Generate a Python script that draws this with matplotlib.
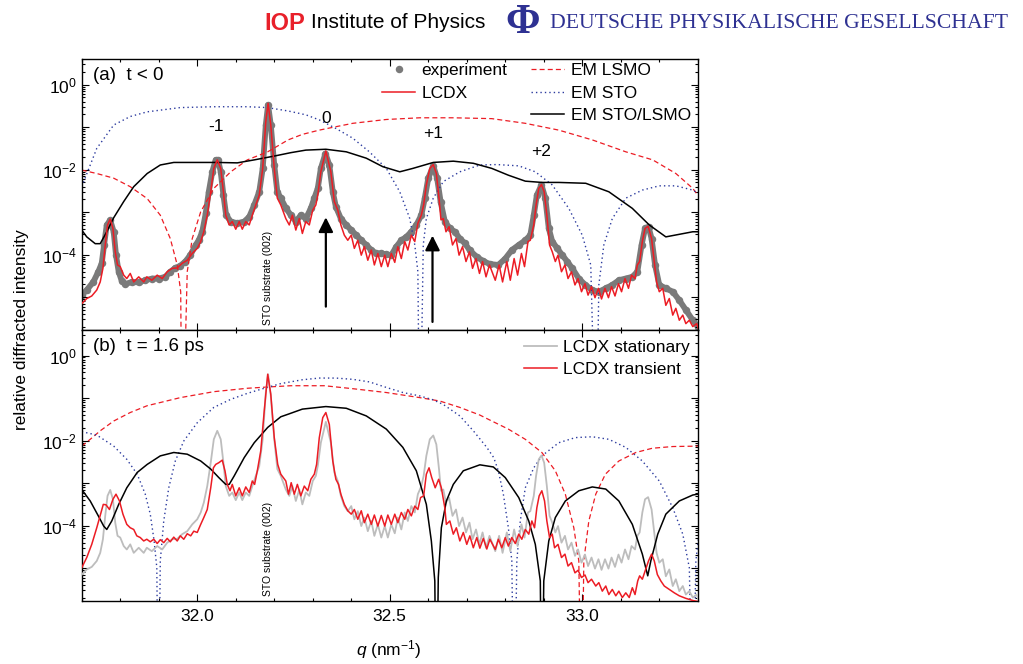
import numpy as np
import matplotlib
matplotlib.use("Agg")
import matplotlib.pyplot as plt
from matplotlib.lines import Line2D
from matplotlib.ticker import (FixedLocator, FuncFormatter, LogLocator,
                               MultipleLocator, NullFormatter)

plt.rcParams["font.family"] = ["Liberation Sans", "DejaVu Sans"]
plt.rcParams["mathtext.fontset"] = "custom"
plt.rcParams["mathtext.rm"] = "Liberation Sans"
plt.rcParams["mathtext.it"] = "Liberation Sans:italic"

RED = "#ec1c24"
BLUE = "#2b3a9e"
DPG_BLUE = "#2e3192"
GREY_EXP = "#7a7a7a"
GREY_STAT = "#bdbdbd"

# Each series: (q in nm^-1, log10 of relative diffracted intensity).
# A value of -9 marks a zero of the model curve, which drops off the axis.

# panel (a), t < 0
experiment = [
    (31.700, -4.95), (31.713, -4.83), (31.730, -4.64), (31.743, -4.40), (31.752, -4.20),
    (31.758, -3.77), (31.765, -3.30), (31.774, -3.19), (31.783, -3.46), (31.789, -4.01),
    (31.796, -4.40), (31.804, -4.62), (31.813, -4.69), (31.830, -4.64), (31.848, -4.65),
    (31.865, -4.60), (31.883, -4.56), (31.900, -4.56), (31.917, -4.52), (31.930, -4.40),
    (31.943, -4.31), (31.956, -4.26), (31.969, -4.16), (31.982, -4.01), (31.996, -3.77),
    (32.004, -3.66), (32.013, -3.46), (32.022, -3.03), (32.030, -2.52), (32.039, -2.05),
    (32.048, -1.77), (32.054, -1.77), (32.061, -2.05), (32.068, -2.60), (32.075, -3.07),
    (32.087, -3.22), (32.104, -3.26), (32.122, -3.22), (32.135, -3.11), (32.148, -2.83),
    (32.161, -2.52), (32.170, -1.97), (32.178, -0.95), (32.184, -0.48), (32.191, -0.95),
    (32.200, -1.89), (32.208, -2.52), (32.217, -2.67), (32.230, -2.90), (32.243, -3.07),
    (32.256, -3.22), (32.269, -3.07), (32.282, -3.15), (32.295, -2.91), (32.304, -2.67),
    (32.313, -2.44), (32.321, -1.97), (32.333, -1.62), (32.343, -1.89), (32.352, -2.52),
    (32.360, -2.87), (32.373, -3.15), (32.387, -3.30), (32.400, -3.42), (32.413, -3.54),
    (32.426, -3.66), (32.439, -3.77), (32.452, -3.89), (32.465, -3.97), (32.478, -3.97),
    (32.491, -3.99), (32.504, -4.01), (32.517, -3.81), (32.530, -3.66), (32.543, -3.58),
    (32.556, -3.46), (32.569, -3.30), (32.582, -3.07), (32.591, -2.67), (32.600, -2.20),
    (32.613, -1.91), (32.623, -2.20), (32.632, -2.75), (32.643, -3.22), (32.656, -3.38),
    (32.669, -3.46), (32.682, -3.62), (32.695, -3.73), (32.708, -3.90), (32.726, -4.05),
    (32.743, -4.15), (32.760, -4.22), (32.782, -4.24), (32.800, -4.09), (32.817, -3.89),
    (32.835, -3.77), (32.852, -3.66), (32.865, -3.54), (32.874, -3.07), (32.882, -2.60),
    (32.894, -2.36), (32.904, -2.67), (32.913, -3.38), (32.922, -3.69), (32.935, -3.85),
    (32.948, -4.01), (32.961, -4.16), (32.974, -4.32), (32.991, -4.56), (33.008, -4.71),
    (33.026, -4.83), (33.043, -4.87), (33.061, -4.79), (33.078, -4.71), (33.095, -4.60),
    (33.113, -4.56), (33.130, -4.52), (33.143, -4.40), (33.154, -3.77), (33.163, -3.38),
    (33.172, -3.34), (33.180, -3.62), (33.189, -4.24), (33.200, -4.71), (33.217, -4.79),
    (33.235, -4.87), (33.252, -5.07), (33.269, -5.30), (33.287, -5.54), (33.300, -5.69),
]

lcdx = [
    (31.700, -5.15), (31.713, -5.03), (31.726, -4.97), (31.739, -4.83), (31.748, -4.64),
    (31.755, -4.32), (31.761, -3.77), (31.767, -3.30), (31.774, -3.16), (31.781, -3.38),
    (31.787, -3.93), (31.793, -4.24), (31.800, -4.28), (31.809, -4.48), (31.817, -4.56),
    (31.826, -4.44), (31.835, -4.64), (31.848, -4.52), (31.861, -4.64), (31.869, -4.52),
    (31.882, -4.60), (31.896, -4.48), (31.909, -4.56), (31.922, -4.40), (31.935, -4.32),
    (31.948, -4.31), (31.961, -4.20), (31.974, -4.13), (31.987, -3.97), (32.000, -3.85),
    (32.009, -3.69), (32.017, -3.46), (32.026, -3.07), (32.035, -2.52), (32.043, -1.97),
    (32.052, -1.77), (32.061, -1.97), (32.068, -2.52), (32.074, -3.07), (32.083, -3.30),
    (32.091, -3.22), (32.100, -3.40), (32.109, -3.22), (32.117, -3.40), (32.126, -3.22),
    (32.135, -3.30), (32.143, -3.07), (32.152, -2.83), (32.161, -2.60), (32.170, -1.97),
    (32.178, -0.87), (32.184, -0.44), (32.191, -0.95), (32.200, -1.97), (32.208, -2.67),
    (32.217, -2.83), (32.230, -3.15), (32.239, -3.30), (32.247, -3.07), (32.256, -3.42),
    (32.265, -3.15), (32.273, -3.50), (32.282, -3.22), (32.291, -3.30), (32.300, -2.95),
    (32.308, -2.83), (32.313, -2.60), (32.321, -2.05), (32.334, -1.56), (32.347, -2.05),
    (32.356, -2.75), (32.365, -2.95), (32.373, -3.30), (32.382, -3.54), (32.391, -3.66),
    (32.400, -3.54), (32.408, -3.85), (32.417, -3.66), (32.426, -4.01), (32.434, -3.81),
    (32.443, -4.13), (32.452, -3.89), (32.460, -4.24), (32.469, -3.97), (32.478, -4.28),
    (32.487, -4.01), (32.495, -4.28), (32.504, -3.97), (32.513, -4.18), (32.521, -3.81),
    (32.530, -4.09), (32.539, -3.69), (32.547, -3.89), (32.556, -3.54), (32.565, -3.69),
    (32.573, -3.26), (32.582, -3.07), (32.588, -2.83), (32.595, -2.36), (32.604, -1.97),
    (32.613, -1.88), (32.621, -2.09), (32.628, -2.68), (32.633, -3.18), (32.639, -3.15),
    (32.646, -3.46), (32.654, -3.34), (32.663, -3.77), (32.672, -3.62), (32.680, -4.01),
    (32.689, -3.81), (32.698, -4.16), (32.707, -3.93), (32.715, -4.32), (32.724, -4.09),
    (32.733, -4.44), (32.741, -4.16), (32.750, -4.52), (32.759, -4.24), (32.774, -4.60),
    (32.784, -4.24), (32.793, -4.64), (32.804, -4.16), (32.813, -4.60), (32.823, -4.09),
    (32.832, -4.48), (32.842, -3.97), (32.850, -4.28), (32.859, -3.69), (32.865, -3.66),
    (32.874, -3.30), (32.880, -2.83), (32.887, -2.44), (32.894, -2.35), (32.901, -2.52),
    (32.908, -3.07), (32.915, -3.77), (32.922, -3.93), (32.930, -4.16), (32.937, -4.01),
    (32.946, -4.40), (32.955, -4.24), (32.963, -4.56), (32.972, -4.40), (32.981, -4.71),
    (32.989, -4.56), (32.998, -4.87), (33.007, -4.68), (33.015, -4.95), (33.024, -4.75),
    (33.033, -5.01), (33.042, -4.79), (33.050, -5.04), (33.059, -4.79), (33.068, -5.01),
    (33.076, -4.75), (33.085, -4.97), (33.094, -4.68), (33.102, -4.87), (33.111, -4.56),
    (33.120, -4.79), (33.128, -4.48), (33.137, -4.56), (33.143, -4.24), (33.149, -4.16),
    (33.156, -3.69), (33.163, -3.38), (33.171, -3.33), (33.180, -3.62), (33.187, -4.16),
    (33.193, -4.64), (33.200, -4.87), (33.209, -4.79), (33.217, -5.19), (33.226, -5.03),
    (33.235, -5.42), (33.243, -5.26), (33.252, -5.54), (33.261, -5.42), (33.269, -5.62),
    (33.278, -5.54), (33.287, -5.69), (33.297, -5.62), (33.303, -5.77),
]

em_lsmo_a = [
    (31.700, -2.01), (31.739, -2.09), (31.783, -2.20), (31.826, -2.40), (31.870, -2.68),
    (31.904, -3.07), (31.930, -3.62), (31.948, -4.24), (31.957, -4.87), (31.961, -9.0),
    (31.974, -4.40), (31.987, -3.62), (32.009, -2.99), (32.043, -2.44), (32.087, -2.05),
    (32.130, -1.77), (32.183, -1.58), (32.236, -1.30), (32.273, -1.17), (32.317, -1.07),
    (32.360, -0.99), (32.404, -0.91), (32.491, -0.82), (32.578, -0.78), (32.665, -0.78),
    (32.765, -0.80), (32.852, -0.91), (32.939, -1.07), (33.026, -1.30), (33.113, -1.58),
    (33.183, -1.77), (33.243, -2.09), (33.287, -2.44), (33.300, -2.60),
]

em_sto_a = [
    (31.700, -2.40), (31.739, -1.50), (31.783, -0.95), (31.826, -0.75), (31.870, -0.64),
    (31.956, -0.54), (32.043, -0.52), (32.130, -0.52), (32.182, -0.54), (32.236, -0.62),
    (32.282, -0.71), (32.317, -0.83), (32.360, -1.03), (32.404, -1.26), (32.447, -1.58),
    (32.491, -1.97), (32.526, -2.52), (32.552, -3.15), (32.565, -3.77), (32.573, -4.40),
    (32.578, -9.0), (32.587, -3.77), (32.595, -3.15), (32.613, -2.67), (32.639, -2.28),
    (32.682, -2.05), (32.734, -1.89), (32.778, -1.88), (32.835, -1.91), (32.878, -2.05),
    (32.922, -2.36), (32.965, -2.91), (33.000, -3.54), (33.022, -4.24), (33.036, -9.0),
    (33.043, -4.71), (33.056, -3.77), (33.078, -3.15), (33.113, -2.67), (33.156, -2.48),
    (33.200, -2.38), (33.243, -2.38), (33.287, -2.48), (33.300, -2.55),
]

em_sto_lsmo_a = [
    (31.700, -3.42), (31.713, -3.58), (31.735, -3.74), (31.748, -3.74), (31.765, -3.46),
    (31.783, -3.13), (31.809, -2.75), (31.835, -2.40), (31.870, -2.09), (31.904, -1.89),
    (31.939, -1.83), (31.999, -1.83), (32.051, -1.83), (32.104, -1.84), (32.148, -1.77),
    (32.200, -1.68), (32.243, -1.60), (32.282, -1.54), (32.334, -1.52), (32.387, -1.58),
    (32.439, -1.73), (32.482, -1.93), (32.526, -2.05), (32.560, -1.97), (32.613, -1.83),
    (32.665, -1.80), (32.717, -1.85), (32.765, -1.97), (32.808, -2.13), (32.852, -2.27),
    (32.895, -2.30), (32.939, -2.30), (33.009, -2.32), (33.069, -2.52), (33.130, -2.91),
    (33.174, -3.30), (33.217, -3.58), (33.252, -3.52), (33.287, -3.46), (33.300, -3.46),
]

# panel (b), t = 1.6 ps
lcdx_transient = [
    (31.700, -4.99), (31.713, -4.75), (31.726, -4.44), (31.739, -4.05), (31.749, -3.73),
    (31.756, -3.50), (31.763, -3.51), (31.772, -3.62), (31.781, -3.38), (31.789, -3.26),
    (31.798, -3.42), (31.807, -3.73), (31.817, -3.97), (31.826, -4.05), (31.835, -4.09),
    (31.843, -4.24), (31.852, -4.28), (31.861, -4.36), (31.869, -4.32), (31.878, -4.38),
    (31.887, -4.32), (31.896, -4.42), (31.904, -4.33), (31.913, -4.40), (31.922, -4.30),
    (31.930, -4.38), (31.939, -4.27), (31.948, -4.36), (31.956, -4.24), (31.965, -4.32),
    (31.974, -4.19), (31.983, -4.24), (31.991, -4.13), (32.000, -4.16), (32.009, -3.97),
    (32.017, -3.81), (32.026, -3.62), (32.035, -3.11), (32.042, -2.64), (32.048, -2.56),
    (32.056, -2.52), (32.065, -2.46), (32.072, -2.71), (32.078, -3.03), (32.085, -3.18),
    (32.091, -3.03), (32.100, -3.30), (32.109, -3.11), (32.117, -3.30), (32.126, -3.09),
    (32.135, -3.22), (32.143, -2.95), (32.149, -3.03), (32.156, -2.71), (32.165, -2.24),
    (32.174, -1.30), (32.183, -0.44), (32.191, -0.91), (32.200, -1.93), (32.209, -2.56),
    (32.217, -2.79), (32.230, -2.95), (32.237, -3.26), (32.244, -2.99), (32.252, -3.26),
    (32.260, -3.03), (32.269, -3.30), (32.278, -3.07), (32.287, -3.18), (32.295, -2.91),
    (32.304, -2.79), (32.310, -2.56), (32.317, -1.93), (32.326, -1.46), (32.334, -1.34),
    (32.343, -1.62), (32.352, -2.48), (32.360, -2.91), (32.367, -3.03), (32.373, -3.26),
    (32.382, -3.50), (32.391, -3.65), (32.400, -3.73), (32.408, -3.62), (32.417, -3.85),
    (32.426, -3.65), (32.434, -3.93), (32.443, -3.73), (32.452, -3.97), (32.460, -3.75),
    (32.469, -4.01), (32.478, -3.76), (32.487, -4.01), (32.495, -3.75), (32.504, -3.97),
    (32.513, -3.73), (32.521, -3.93), (32.530, -3.69), (32.539, -3.85), (32.547, -3.62),
    (32.556, -3.77), (32.565, -3.54), (32.573, -3.62), (32.580, -3.34), (32.588, -3.30),
    (32.595, -2.79), (32.602, -2.64), (32.609, -2.87), (32.618, -3.11), (32.627, -2.91),
    (32.634, -3.11), (32.643, -3.58), (32.647, -3.97), (32.656, -3.89), (32.665, -4.20),
    (32.673, -4.05), (32.682, -4.36), (32.691, -4.16), (32.700, -4.44), (32.708, -4.24),
    (32.717, -4.52), (32.726, -4.28), (32.734, -4.53), (32.743, -4.30), (32.752, -4.55),
    (32.760, -4.32), (32.774, -4.56), (32.782, -4.32), (32.791, -4.52), (32.800, -4.28),
    (32.808, -4.48), (32.817, -4.28), (32.826, -4.42), (32.835, -4.20), (32.843, -4.32),
    (32.852, -4.09), (32.861, -4.20), (32.869, -3.89), (32.876, -4.05), (32.882, -3.58),
    (32.888, -3.30), (32.895, -3.18), (32.902, -3.42), (32.908, -3.89), (32.915, -4.28),
    (32.922, -4.20), (32.928, -4.52), (32.937, -4.44), (32.946, -4.75), (32.955, -4.67),
    (32.963, -4.95), (32.972, -4.87), (32.981, -5.11), (32.989, -5.05), (32.998, -5.22),
    (33.007, -5.16), (33.015, -5.34), (33.024, -5.26), (33.035, -5.42), (33.043, -5.34),
    (33.052, -5.54), (33.061, -5.42), (33.069, -5.62), (33.078, -5.50), (33.087, -5.65),
    (33.095, -5.54), (33.104, -5.69), (33.113, -5.58), (33.122, -5.69), (33.130, -5.46),
    (33.137, -5.62), (33.144, -5.30), (33.149, -5.18), (33.156, -5.26), (33.163, -5.07),
    (33.172, -4.83), (33.180, -4.67), (33.187, -4.83), (33.195, -5.15), (33.204, -5.30),
    (33.213, -5.42), (33.226, -5.50), (33.239, -5.58), (33.252, -5.65), (33.269, -5.71),
    (33.287, -5.76), (33.304, -5.79),
]

em_lsmo_b = [
    (31.700, -2.13), (31.722, -1.97), (31.748, -1.77), (31.783, -1.54), (31.826, -1.34),
    (31.870, -1.18), (31.956, -0.99), (32.043, -0.85), (32.130, -0.77), (32.183, -0.74),
    (32.243, -0.71), (32.330, -0.71), (32.404, -0.78), (32.491, -0.87), (32.578, -0.99),
    (32.630, -1.07), (32.682, -1.22), (32.734, -1.40), (32.765, -1.54), (32.808, -1.73),
    (32.852, -1.97), (32.895, -2.28), (32.930, -2.71), (32.956, -3.26), (32.978, -4.05),
    (32.991, -4.83), (32.998, -9.0), (33.004, -4.83), (33.017, -3.89), (33.035, -3.26),
    (33.060, -2.79), (33.095, -2.48), (33.139, -2.28), (33.182, -2.18), (33.235, -2.14),
    (33.300, -2.13),
]

em_sto_b = [
    (31.700, -1.79), (31.739, -1.87), (31.783, -2.13), (31.817, -2.44), (31.844, -2.79),
    (31.865, -3.26), (31.878, -3.73), (31.888, -4.36), (31.895, -4.99), (31.899, -9.0),
    (31.904, -4.83), (31.913, -3.89), (31.926, -3.11), (31.943, -2.48), (31.965, -2.01),
    (32.000, -1.58), (32.043, -1.22), (32.087, -1.03), (32.130, -0.89), (32.174, -0.77),
    (32.217, -0.66), (32.273, -0.57), (32.317, -0.53), (32.360, -0.53), (32.404, -0.56),
    (32.447, -0.62), (32.491, -0.75), (32.534, -0.87), (32.578, -0.95), (32.612, -1.04),
    (32.639, -1.15), (32.682, -1.42), (32.717, -1.77), (32.752, -2.16), (32.770, -2.40),
    (32.782, -2.71), (32.795, -3.26), (32.808, -4.05), (32.817, -4.83), (32.823, -9.0),
    (32.830, -4.83), (32.839, -3.89), (32.852, -3.11), (32.874, -2.64), (32.895, -2.36),
    (32.939, -2.05), (32.982, -1.93), (33.026, -1.91), (33.069, -1.97), (33.113, -2.16),
    (33.156, -2.48), (33.200, -2.95), (33.235, -3.58), (33.261, -4.20), (33.278, -4.99),
    (33.287, -9.0), (33.295, -4.83), (33.303, -4.20),
]

em_sto_lsmo_b = [
    (31.700, -3.15), (31.722, -3.42), (31.743, -3.77), (31.757, -4.01), (31.765, -4.09),
    (31.778, -3.89), (31.796, -3.50), (31.817, -3.11), (31.844, -2.75), (31.870, -2.56),
    (31.904, -2.36), (31.939, -2.28), (31.974, -2.32), (32.009, -2.48), (32.035, -2.67),
    (32.056, -2.87), (32.074, -3.03), (32.083, -3.03), (32.096, -2.83), (32.122, -2.40),
    (32.148, -2.05), (32.183, -1.69), (32.217, -1.44), (32.236, -1.38), (32.273, -1.26),
    (32.334, -1.20), (32.387, -1.24), (32.439, -1.42), (32.491, -1.73), (32.534, -2.16),
    (32.569, -2.71), (32.595, -3.50), (32.608, -4.36), (32.617, -5.30), (32.621, -9.0),
    (32.626, -5.22), (32.634, -4.05), (32.647, -3.42), (32.665, -3.03), (32.691, -2.71),
    (32.734, -2.57), (32.769, -2.62), (32.800, -2.87), (32.835, -3.34), (32.861, -3.89),
    (32.878, -4.44), (32.891, -5.30), (32.895, -9.0), (32.900, -5.30), (32.913, -4.36),
    (32.930, -3.81), (32.956, -3.42), (32.991, -3.18), (33.026, -3.09), (33.061, -3.14),
    (33.095, -3.42), (33.130, -3.97), (33.156, -4.67), (33.170, -5.18), (33.178, -4.83),
    (33.196, -4.20), (33.217, -3.73), (33.252, -3.42), (33.287, -3.28), (33.300, -3.26),
]

# satellite orders marked in panel (a): label, q, log10 height of the label
order_labels = ["-1", "0", "+1", "+2"]
order_q = [32.048, 32.334, 32.613, 32.894]
order_log = [-0.99, -0.79, -1.15, -1.58]

# arrows under the 0 and +1 satellites: q, log10 of tail and tip
arrow_q = [32.334, 32.611]
arrow_tail = [-5.22, -5.58]
arrow_tip = [-3.12, -3.55]

substrate_q = 32.183


def curve(points):
    """Split a list of (q, log10 I) pairs into q and intensity arrays."""
    arr = np.array(points)
    return arr[:, 0], 10.0 ** arr[:, 1]


def log_label(value, pos):
    k = int(round(np.log10(value)))
    if k % 2:
        return ""
    return r"$10^{%d}$" % k


def style_axis(ax):
    ax.set_yscale("log")
    ax.set_xlim(31.7, 33.3)
    ax.set_ylim(10 ** -5.77, 10 ** 0.6)
    ax.xaxis.set_major_locator(MultipleLocator(0.5))
    ax.xaxis.set_minor_locator(MultipleLocator(0.1))
    ax.xaxis.set_major_formatter(FuncFormatter(lambda v, p: "%.1f" % v))
    ax.yaxis.set_major_locator(FixedLocator([10.0 ** k for k in range(-5, 1)]))
    ax.yaxis.set_major_formatter(FuncFormatter(log_label))
    ax.yaxis.set_minor_locator(LogLocator(base=10, subs=np.arange(2, 10), numticks=20))
    ax.yaxis.set_minor_formatter(NullFormatter())
    ax.tick_params(which="both", direction="in", top=True, right=True,
                   labelsize=12.5, width=0.8)
    ax.tick_params(which="major", length=5)
    ax.tick_params(which="minor", length=2.5)
    ax.tick_params(axis="x", pad=6)
    for spine in ax.spines.values():
        spine.set_linewidth(1.0)


def plot_models(ax, lsmo, sto, sto_lsmo):
    q, i = curve(lsmo)
    ax.plot(q, i, color=RED, lw=0.9, dashes=(4, 2.5), label="EM LSMO", zorder=2)
    q, i = curve(sto)
    ax.plot(q, i, color=BLUE, lw=1.0, dashes=(1, 2.2), label="EM STO", zorder=2)
    q, i = curve(sto_lsmo)
    ax.plot(q, i, color="black", lw=1.1, label="EM STO/LSMO", zorder=3)


def main():
    fig = plt.figure(figsize=(10.23, 6.64), dpi=100)
    ax_a = fig.add_axes([0.0799, 0.503, 0.6022, 0.408])
    ax_b = fig.add_axes([0.0799, 0.095, 0.6022, 0.408], sharex=ax_a)

    legend_style = dict(loc="upper left", frameon=False, fontsize=12.5,
                        handlelength=1.9, handletextpad=0.35, labelspacing=0.42,
                        borderpad=0, borderaxespad=0)

    # panel (a)
    q, i = curve(experiment)
    ax_a.plot(q, i, color=GREY_EXP, lw=4.2, solid_capstyle="round", zorder=1)
    ax_a.plot(q, i, "o", color=GREY_EXP, ms=5.4, mec="none", zorder=1)
    q, i = curve(lcdx)
    ax_a.plot(q, i, color=RED, lw=1.1, zorder=4)
    plot_models(ax_a, em_lsmo_a, em_sto_a, em_sto_lsmo_a)

    for text, x, y in zip(order_labels, order_q, order_log):
        ax_a.text(x, 10 ** y, text, ha="center", va="center", fontsize=12.5)
    for x, tail, tip in zip(arrow_q, arrow_tail, arrow_tip):
        ax_a.annotate("", xy=(x, 10 ** tip), xytext=(x, 10 ** tail),
                      arrowprops=dict(arrowstyle="-|>", color="black", lw=1.6,
                                      mutation_scale=22, shrinkA=0, shrinkB=0),
                      zorder=5)

    exp_handle = Line2D([], [], ls="none", marker="o", ms=5.4, color=GREY_EXP, mec="none")
    lcdx_handle = Line2D([], [], color=RED, lw=1.1)
    leg1 = ax_a.legend([exp_handle, lcdx_handle], ["experiment", "LCDX"],
                       bbox_to_anchor=(0.488, 0.985), **legend_style)
    ax_a.add_artist(leg1)
    model_handles = ax_a.get_lines()[-3:]
    ax_a.legend(model_handles, ["EM LSMO", "EM STO", "EM STO/LSMO"],
                bbox_to_anchor=(0.730, 0.985), **legend_style)

    # panel (b)
    q, i = curve(lcdx)
    stat_line, = ax_b.plot(q, i, color=GREY_STAT, lw=1.3, zorder=3)
    q, i = curve(lcdx_transient)
    trans_line, = ax_b.plot(q, i, color=RED, lw=1.1, zorder=4)
    plot_models(ax_b, em_lsmo_b, em_sto_b, em_sto_lsmo_b)
    ax_b.legend([stat_line, trans_line], ["LCDX stationary", "LCDX transient"],
                bbox_to_anchor=(0.718, 0.965), **legend_style)

    for ax, label in ((ax_a, "(a)  t < 0"), (ax_b, "(b)  t = 1.6 ps")):
        style_axis(ax)
        ax.text(0.018, 0.972, label, transform=ax.transAxes, ha="left", va="top",
                fontsize=13.5)
        ax.text(substrate_q, 10 ** -4.55, "STO substrate (002)", rotation=90,
                ha="center", va="center", fontsize=7.5, zorder=6)
    ax_a.tick_params(labelbottom=False)

    fig.text(22 / 1023, 1 - 330 / 664, "relative diffracted intensity",
             rotation=90, ha="center", va="center", fontsize=12.5)
    fig.text(389 / 1023, 1 - 650 / 664, r"$q$ (nm$^{-1}$)", ha="center",
             va="center", fontsize=12.5)

    # publisher banner
    y_head = 1 - 23 / 664
    fig.text(264 / 1023, y_head, "IOP", color="#e8202a", fontweight="bold",
             fontsize=17, ha="left", va="center")
    fig.text(311 / 1023, y_head, "Institute of Physics", fontsize=15,
             ha="left", va="center")
    fig.text(523 / 1023, y_head, "\u03a6", family=["Liberation Serif", "DejaVu Serif"],
             color=DPG_BLUE, fontsize=30, fontweight="bold", ha="center", va="center")
    fig.text(550 / 1023, y_head, "DEUTSCHE PHYSIKALISCHE GESELLSCHAFT",
             family=["Liberation Serif", "DejaVu Serif"], color=DPG_BLUE,
             fontsize=15.6, ha="left", va="center")

    fig.savefig("out.png", dpi=100)


if __name__ == "__main__":
    main()
